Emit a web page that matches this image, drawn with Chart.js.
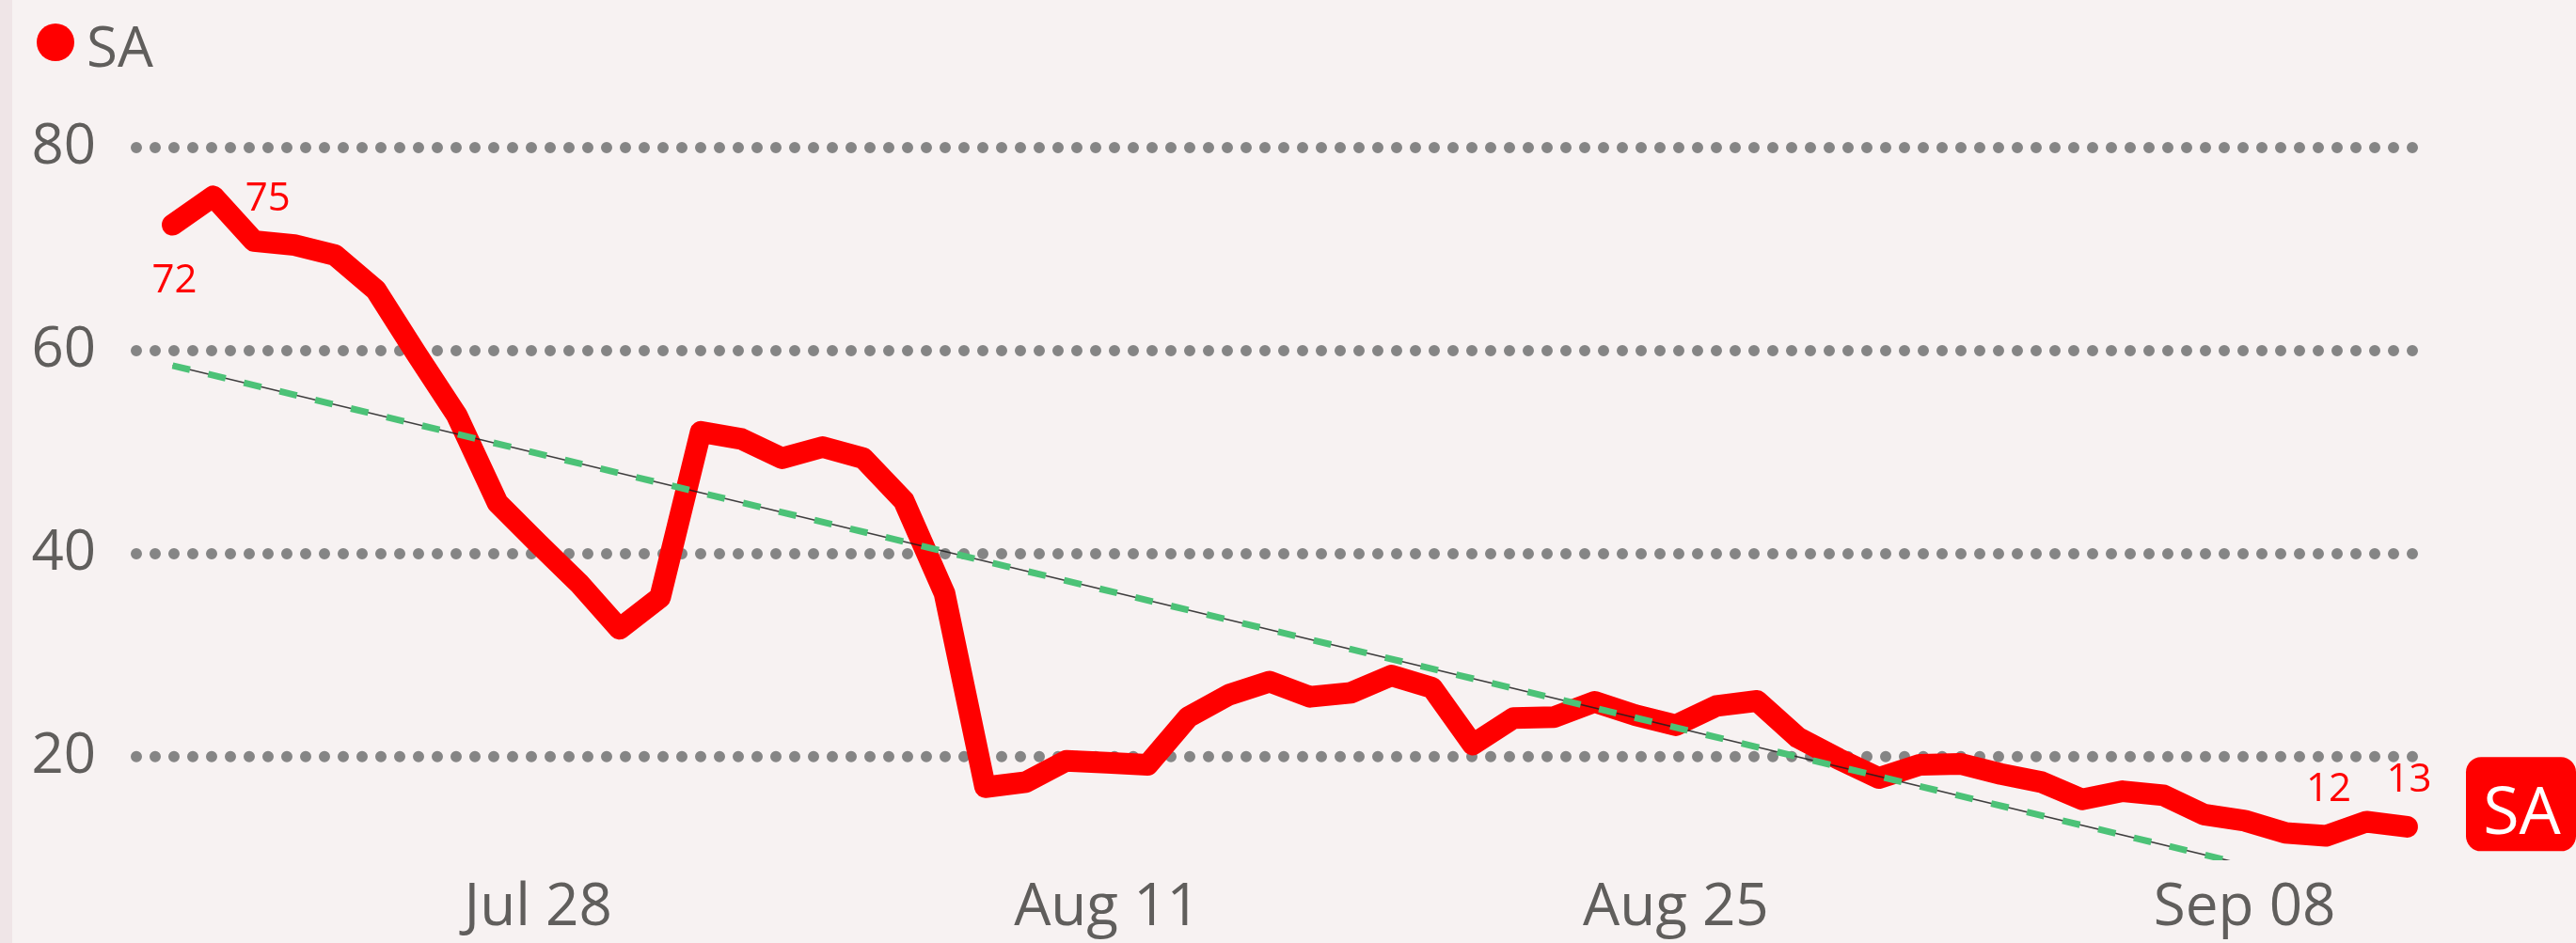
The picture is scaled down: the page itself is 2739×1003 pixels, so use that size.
<!DOCTYPE html>
<html>
<head>
<meta charset="utf-8">
<script src="https://cdn.jsdelivr.net/npm/chart.js@4.4.1/dist/chart.umd.min.js"></script>
<style>
  html, body { margin: 0; padding: 0; }
  body { width: 2739px; height: 1003px; overflow: hidden; background: #F7F2F2; }
  #wrap { position: absolute; left: 0; top: 0; width: 2739px; height: 1003px;
          background: linear-gradient(to right, #EFE5E7 0, #EFE5E7 13px, #F7F2F2 13px); }
  canvas { display: block; }
</style>
</head>
<body>
<div id="wrap"><canvas id="c" width="2739" height="1003"></canvas></div>
<script>
// ---- data ----
const seriesName = 'SA';
const categories = [
  'Jul 19','Jul 20','Jul 21','Jul 22','Jul 23','Jul 24','Jul 25','Jul 26','Jul 27','Jul 28',
  'Jul 29','Jul 30','Jul 31','Aug 01','Aug 02','Aug 03','Aug 04','Aug 05','Aug 06','Aug 07',
  'Aug 08','Aug 09','Aug 10','Aug 11','Aug 12','Aug 13','Aug 14','Aug 15','Aug 16','Aug 17',
  'Aug 18','Aug 19','Aug 20','Aug 21','Aug 22','Aug 23','Aug 24','Aug 25','Aug 26','Aug 27',
  'Aug 28','Aug 29','Aug 30','Aug 31','Sep 01','Sep 02','Sep 03','Sep 04','Sep 05','Sep 06',
  'Sep 07','Sep 08','Sep 09','Sep 10','Sep 11','Sep 12'
];
const values = [
  72.4, 75.2, 70.8, 70.4, 69.4, 66.0, 59.7, 53.6, 45.0, 41.0,
  37.1, 32.6, 35.7, 52.0, 51.3, 49.4, 50.5, 49.4, 45.2, 36.1,
  17.0, 17.5, 19.6, 19.4, 19.2, 23.9, 26.1, 27.4, 25.9, 26.3,
  28.0, 26.8, 21.2, 23.8, 23.9, 25.4, 24.1, 23.1, 25.0, 25.5,
  21.9, 19.8, 17.9, 19.2, 19.3, 18.3, 17.5, 15.8, 16.6, 16.2,
  14.3, 13.7, 12.5, 12.2, 13.6, 13.1
];
const xTickLabels = ['Jul 28', 'Aug 11', 'Aug 25', 'Sep 08'];
const yTicks = [20, 40, 60, 80];
const labelledPoints = [0, 1, 53, 55];

// ---- derived ----
const points = values.map((v, i) => ({ x: i, y: v }));
const xTickPos = xTickLabels.map(l => categories.indexOf(l));
const n = values.length;
const mx = (n - 1) / 2;
const my = values.reduce((a, b) => a + b, 0) / n;
let sxy = 0, sxx = 0;
values.forEach((v, i) => { sxy += (i - mx) * (v - my); sxx += (i - mx) * (i - mx); });
const slope = sxy / sxx;
const icpt = my - slope * mx;
const trend = [{ x: 0, y: icpt }, { x: n - 1, y: icpt + slope * (n - 1) }];

const TEXT = '#605E5C';
const RED = '#FF0000';
const FONT = "'Open Sans', 'Noto Sans', sans-serif";

const dottedGrid = {
  id: 'dottedGrid',
  beforeDatasetsDraw(chart) {
    const { ctx, chartArea, scales } = chart;
    ctx.save();
    ctx.strokeStyle = '#858585';
    ctx.lineWidth = 12;
    ctx.lineCap = 'round';
    ctx.setLineDash([0, 20]);
    yTicks.forEach(v => {
      const y = scales.y.getPixelForValue(v);
      ctx.beginPath();
      ctx.moveTo(chartArea.left + 6, y);
      ctx.lineTo(chartArea.right - 6, y);
      ctx.stroke();
    });
    ctx.restore();
  }
};

const labelOffsets = { 0: [2, 72], 1: [58, 15], 53: [3, -37], 55: [2, -37] };
const dataLabels = {
  id: 'dataLabels',
  afterDatasetsDraw(chart) {
    const { ctx, scales } = chart;
    ctx.save();
    ctx.fillStyle = RED;
    ctx.font = `42px ${FONT}`;
    ctx.textAlign = 'center';
    ctx.textBaseline = 'alphabetic';
    labelledPoints.forEach(i => {
      const px = scales.x.getPixelForValue(i);
      const py = scales.y.getPixelForValue(values[i]);
      const o = labelOffsets[i] || [0, -37];
      ctx.fillText(String(Math.round(values[i])), px + o[0], py + o[1]);
    });
    ctx.restore();
  }
};

const legendAndTag = {
  id: 'legendAndTag',
  afterDraw(chart) {
    const { ctx, scales, chartArea } = chart;
    ctx.save();
    // legend
    ctx.fillStyle = RED;
    ctx.beginPath();
    ctx.arc(59, 45, 20, 0, Math.PI * 2);
    ctx.fill();
    ctx.fillStyle = TEXT;
    ctx.font = `60px ${FONT}`;
    ctx.textAlign = 'left';
    ctx.textBaseline = 'alphabetic';
    ctx.fillText(seriesName, 92, 71);
    // series tag at right
    const ly = scales.y.getPixelForValue(values[n - 1]);
    const bx = chartArea.right + 31, bw = 117, bh = 100, by = ly - 74;
    ctx.fillStyle = RED;
    ctx.beginPath();
    ctx.roundRect(bx, by, bw, bh, 16);
    ctx.fill();
    ctx.fillStyle = '#FFFFFF';
    ctx.font = `70px ${FONT}`;
    ctx.textAlign = 'center';
    ctx.fillText(seriesName, bx + bw / 2 + 1, by + 82);
    ctx.restore();
  }
};

new Chart(document.getElementById('c'), {
  type: 'line',
  data: {
    datasets: [
      { label: 'trendGreen', data: trend, borderColor: '#4CC277', borderWidth: 7,
        borderDash: [19, 20], pointRadius: 0, order: 0 },
      { label: 'trendBlack', data: trend, borderColor: 'rgba(30,30,30,0.85)', borderWidth: 1.6,
        pointRadius: 0, order: 1 },
      { label: seriesName, data: points, borderColor: RED, borderWidth: 23,
        borderCapStyle: 'round', borderJoinStyle: 'round', pointRadius: 0, tension: 0, order: 2 }
    ]
  },
  options: {
    responsive: false,
    animation: false,
    devicePixelRatio: 1,
    layout: { padding: { left: 0, right: 148, top: 157, bottom: 0 } },
    plugins: { legend: { display: false }, tooltip: { enabled: false } },
    scales: {
      x: {
        type: 'linear', min: -1.03, max: 55.73,
        grid: { display: false, drawTicks: false },
        border: { display: false },
        afterBuildTicks: ax => { ax.ticks = xTickPos.map(v => ({ value: v })); },
        afterFit: ax => { ax.height = 88; },
        ticks: {
          autoSkip: false, maxRotation: 0, padding: 14,
          color: TEXT, font: { family: FONT, size: 62 },
          callback: (v, i) => xTickLabels[i]
        }
      },
      y: {
        type: 'linear', min: 9.8, max: 80,
        grid: { display: false, drawTicks: false },
        border: { display: false },
        afterBuildTicks: ax => { ax.ticks = yTicks.map(v => ({ value: v })); },
        afterFit: ax => { ax.width = 139; },
        ticks: { padding: 37, color: TEXT, font: { family: FONT, size: 60 } }
      }
    }
  },
  plugins: [dottedGrid, dataLabels, legendAndTag]
});
</script>
</body>
</html>
